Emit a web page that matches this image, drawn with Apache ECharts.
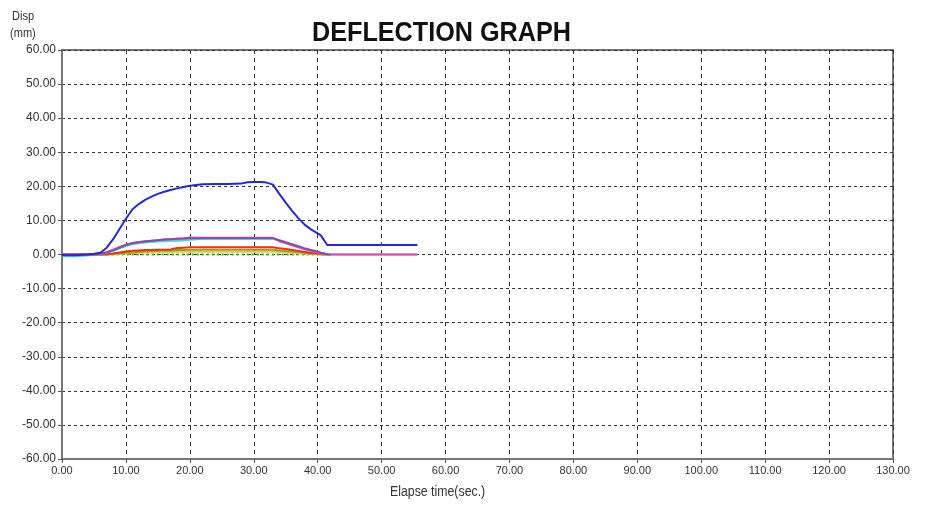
<!DOCTYPE html>
<html>
<head>
<meta charset="utf-8">
<title>Deflection graph</title>
<script src="https://cdn.jsdelivr.net/npm/echarts@6/dist/echarts.min.js"></script>
<style>
  html, body { margin: 0; padding: 0; background: #fff; }
  #chart { width: 925px; height: 506px; }
</style>
</head>
<body>
<div id="chart"></div>
<script>
// elapse time (sec.) shared by all channels
var times = [0, 2, 4, 5, 6, 7, 8, 9, 10, 11, 12, 13, 14, 15, 16, 17, 18, 19, 20, 22, 24, 26, 28, 29, 30, 31, 32, 33, 34, 35, 36, 37, 38, 39, 40, 40.5, 41, 41.5, 42, 45, 50, 55.6]

// displacement (mm) per channel
var dispBlue   = [-0.2, -0.2, 0, 0.2, 0.5, 2.0, 4.5, 7.5, 10.5, 13.2, 14.8, 16.0, 17.0, 17.8, 18.4, 18.9, 19.4, 19.8, 20.2, 20.6, 20.7, 20.7, 20.8, 21.2, 21.3, 21.3, 21.1, 20.5, 17.8, 15.2, 12.8, 10.6, 8.7, 7.3, 6.2, 5.6, 4.2, 2.8, 2.8, 2.8, 2.8, 2.8]
var dispCyan   = [-0.5, -0.5, -0.3, -0.1, 0.1, 0.5, 1.0, 1.8, 2.5, 3.0, 3.3, 3.5, 3.7, 3.8, 3.9, 4.0, 4.0, 4.1, 4.3, 4.6, 4.6, 4.6, 4.6, 4.6, 4.6, 4.6, 4.6, 4.6, 4.0, 3.4, 2.8, 2.2, 1.7, 1.2, 0.7, 0.5, 0.3, 0.1, 0, 0, 0, 0]
var dispPurple = [0, 0, 0, 0, 0.2, 0.6, 1.2, 2.0, 2.8, 3.3, 3.6, 3.8, 4.0, 4.2, 4.4, 4.5, 4.6, 4.7, 4.8, 4.8, 4.8, 4.8, 4.8, 4.8, 4.8, 4.8, 4.8, 4.8, 4.2, 3.6, 3.0, 2.4, 1.8, 1.3, 0.8, 0.5, 0.3, 0.1, 0, null, null, null]
var dispPink   = [0, 0, 0, 0, 0.2, 0.7, 1.4, 2.2, 2.9, 3.4, 3.7, 3.9, 4.0, 4.2, 4.4, 4.5, 4.6, 4.7, 5.0, 4.9, 4.9, 4.9, 4.9, 4.9, 4.9, 4.9, 4.9, 4.9, 3.9, 3.3, 2.7, 2.1, 1.5, 1.0, 0.5, 0.3, 0.1, 0, 0, 0, 0, 0]
var dispRed    = [0, 0, 0, 0, 0, 0.1, 0.3, 0.6, 0.9, 1.1, 1.2, 1.3, 1.3, 1.4, 1.4, 1.5, 1.9, 2.0, 2.1, 2.1, 2.1, 2.1, 2.1, 2.1, 2.1, 2.1, 2.1, 2.1, 1.8, 1.6, 1.3, 1.0, 0.7, 0.5, 0.3, 0.2, 0.1, 0, null, null, null, null]
var dispOlive  = [0, 0, 0, 0, 0, 0, 0.2, 0.3, 0.5, 0.6, 0.8, 0.9, 1.0, 1.1, 1.2, 1.2, 1.3, 1.3, 1.4, 1.4, 1.4, 1.4, 1.4, 1.4, 1.4, 1.4, 1.4, 1.4, 1.2, 1.0, 0.9, 0.7, 0.5, 0.3, 0.2, 0.1, 0, null, null, null, null, null]
var dispYellow = [0, 0, 0, 0, 0, 0, 0.1, 0.2, 0.3, 0.4, 0.5, 0.6, 0.6, 0.7, 0.7, 0.7, 0.8, 0.8, 0.8, 0.8, 0.8, 0.8, 0.8, 0.8, 0.8, 0.8, 0.8, 0.8, 0.7, 0.6, 0.5, 0.4, 0.3, 0.2, 0.1, 0, 0, null, null, null, null, null]
var dispGreen  = [null, null, null, null, null, 0, 0, 0, 0, 0, 0, 0, 0, 0, 0, 0, 0, 0, 0, 0, 0, 0, 0, 0, 0, 0, 0, 0, 0, 0, 0, 0, 0, 0, 0, 0, 0, null, null, null, null, null]

var xTicks = [0, 130, 10]   // min, max, interval
var yTicks = [-60, 60, 10]

var font = 'Liberation Sans, Arial, sans-serif'

function pairs(vals) {
  return times.map(function (t, i) { return [t, vals[i]] })
}

function line(name, color, vals, dotted) {
  return {
    name: name,
    type: 'line',
    showSymbol: false,
    connectNulls: false,
    lineStyle: { color: color, width: 2, type: dotted ? [2, 3] : 'solid' },
    itemStyle: { color: color },
    data: pairs(vals)
  }
}

var chart = echarts.init(document.getElementById('chart'))
chart.setOption({
  animation: false,
  grid: {
    left: 62,
    right: 32,
    top: 50,
    bottom: 47,
    show: true,
    borderColor: '#777',
    borderWidth: 2
  },
  graphic: [
    // title is squeezed a bit to look like the narrow face of the original
    { type: 'text', x: 312, y: 19, scaleX: 0.9, style: { text: 'DEFLECTION GRAPH', font: 'bold 28px ' + font, fill: '#111' } },
    { type: 'text', x: 12, y: 10, scaleX: 0.85, style: { text: 'Disp', font: '13px ' + font, fill: '#333' } },
    { type: 'text', x: 10, y: 27, scaleX: 0.85, style: { text: '(mm)', font: '13px ' + font, fill: '#333' } },
    { type: 'text', x: 390, y: 485, scaleX: 0.88, style: { text: 'Elapse time(sec.)', font: '14px ' + font, fill: '#333' } }
  ],
  xAxis: {
    type: 'value',
    min: xTicks[0],
    max: xTicks[1],
    interval: xTicks[2],
    axisLine: { show: true, onZero: false, lineStyle: { color: '#777', width: 2 } },
    axisTick: { show: true, length: 4, lineStyle: { color: '#555' } },
    axisLabel: {
      fontFamily: font, fontSize: 11, color: '#333', margin: 6,
      formatter: function (v) { return v.toFixed(2) }
    },
    splitLine: { show: true, lineStyle: { color: '#333', type: [4, 4], width: 1 } }
  },
  yAxis: {
    type: 'value',
    min: yTicks[0],
    max: yTicks[1],
    interval: yTicks[2],
    axisLine: { show: true, onZero: false, lineStyle: { color: '#777', width: 2 } },
    axisTick: { show: true, length: 4, lineStyle: { color: '#555' } },
    axisLabel: {
      fontFamily: font, fontSize: 12, color: '#333', margin: 6,
      formatter: function (v) { return v.toFixed(2) }
    },
    splitLine: { show: true, lineStyle: { color: '#333', type: [3, 3], width: 1 } }
  },
  series: [
    line('ch7', '#22c022', dispGreen, true),
    line('ch6', '#d8d040', dispYellow),
    line('ch5', '#a89a20', dispOlive),
    line('ch4', '#f03010', dispRed),
    line('ch3', '#30e0f0', dispCyan),
    line('ch1', '#ff40b0', dispPink),
    line('ch2', '#8050a8', dispPurple),
    line('ch0', '#2828d0', dispBlue)
  ]
})
</script>
</body>
</html>
